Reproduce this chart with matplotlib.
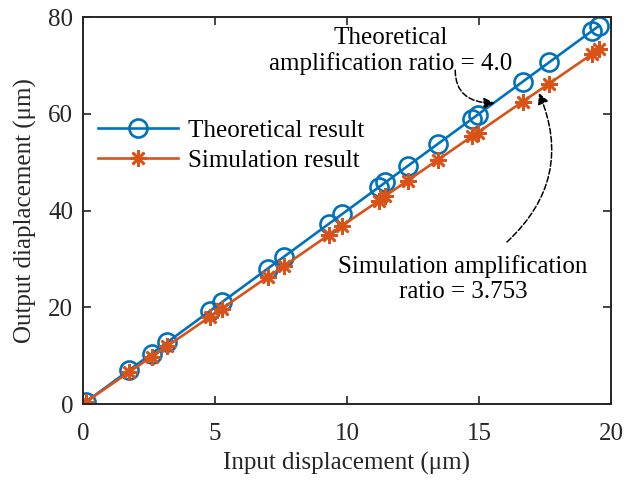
import matplotlib
matplotlib.use("Agg")
import matplotlib.pyplot as plt

# Data
input_disp = [0.1, 1.75, 2.6, 3.2, 4.8, 5.25, 7.0, 7.6, 9.3, 9.8,
              11.2, 11.45, 12.3, 13.45, 14.75, 14.95, 16.65, 17.65, 19.3, 19.55]
theoretical = [0.4, 7.0, 10.4, 12.8, 19.2, 21.0, 28.0, 30.4, 37.2, 39.2,
               44.8, 45.8, 49.2, 53.8, 59.0, 59.8, 66.6, 70.6, 77.2, 78.2]
simulation = [0.4, 6.6, 9.8, 12.0, 18.0, 19.7, 26.3, 28.5, 34.9, 36.8,
              42.0, 43.0, 46.2, 50.5, 55.4, 56.1, 62.5, 66.2, 72.4, 73.4]

x_ticks = [0, 5, 10, 15, 20]
y_ticks = [0, 20, 40, 60, 80]

BLUE = '#0072BD'
ORANGE = '#D95319'
DARK = '#262626'

plt.rcParams['font.family'] = ['Liberation Serif', 'DejaVu Serif']
plt.rcParams['font.size'] = 18

fig = plt.figure(figsize=(6.26, 4.82), dpi=100)
ax = fig.add_axes([0.1326, 0.1618, 0.8434, 0.8029])

ax.plot(input_disp, theoretical, color=BLUE, linewidth=1.9, marker='o',
        markersize=13, markerfacecolor='none', markeredgewidth=1.9,
        label='Theoretical result')
ax.plot(input_disp, simulation, color=ORANGE, linewidth=1.9, marker=(8, 2, 0),
        markersize=12, markeredgewidth=1.9, label='Simulation result')

ax.set_xlim(0, 20)
ax.set_ylim(0, 80)
ax.set_xticks(x_ticks)
ax.set_yticks(y_ticks)
ax.tick_params(direction='in', length=6, width=1.2, top=True, right=True,
               colors=DARK, labelcolor=DARK)
ax.tick_params(axis='x', pad=14)
ax.tick_params(axis='y', pad=7)
for spine in ax.spines.values():
    spine.set_linewidth(1.4)
    spine.set_color(DARK)

ax.set_xlabel('Input displacement (μm)', color=DARK, labelpad=5)
ax.set_ylabel('Output diaplacement (μm)', color=DARK, labelpad=8)

ax.legend(loc='upper left', bbox_to_anchor=(0.005, 0.767), frameon=False,
          handlelength=3.2, labelspacing=0.3, borderpad=0, handletextpad=0.4)

# Annotations
ax.text(11.65, 73.0, 'Theoretical\namplification ratio = 4.0', ha='center',
        va='center', linespacing=1.2)
ax.annotate('', xy=(15.6, 62.2), xytext=(14.1, 69.0),
            arrowprops=dict(arrowstyle='-|>', linestyle='--', color='black',
                            linewidth=1.1, mutation_scale=16,
                            connectionstyle='angle3,angleA=-90,angleB=0',
                            shrinkA=0, shrinkB=0))

ax.text(14.4, 25.8, 'Simulation amplification\nratio = 3.753', ha='center',
        va='center', linespacing=1.2)
ax.annotate('', xy=(17.27, 64.3), xytext=(16.06, 33.5),
            arrowprops=dict(arrowstyle='-|>', linestyle='--', color='black',
                            linewidth=1.1, mutation_scale=16,
                            connectionstyle='arc3,rad=0.35',
                            shrinkA=0, shrinkB=0))

fig.savefig('out.png', dpi=100)
